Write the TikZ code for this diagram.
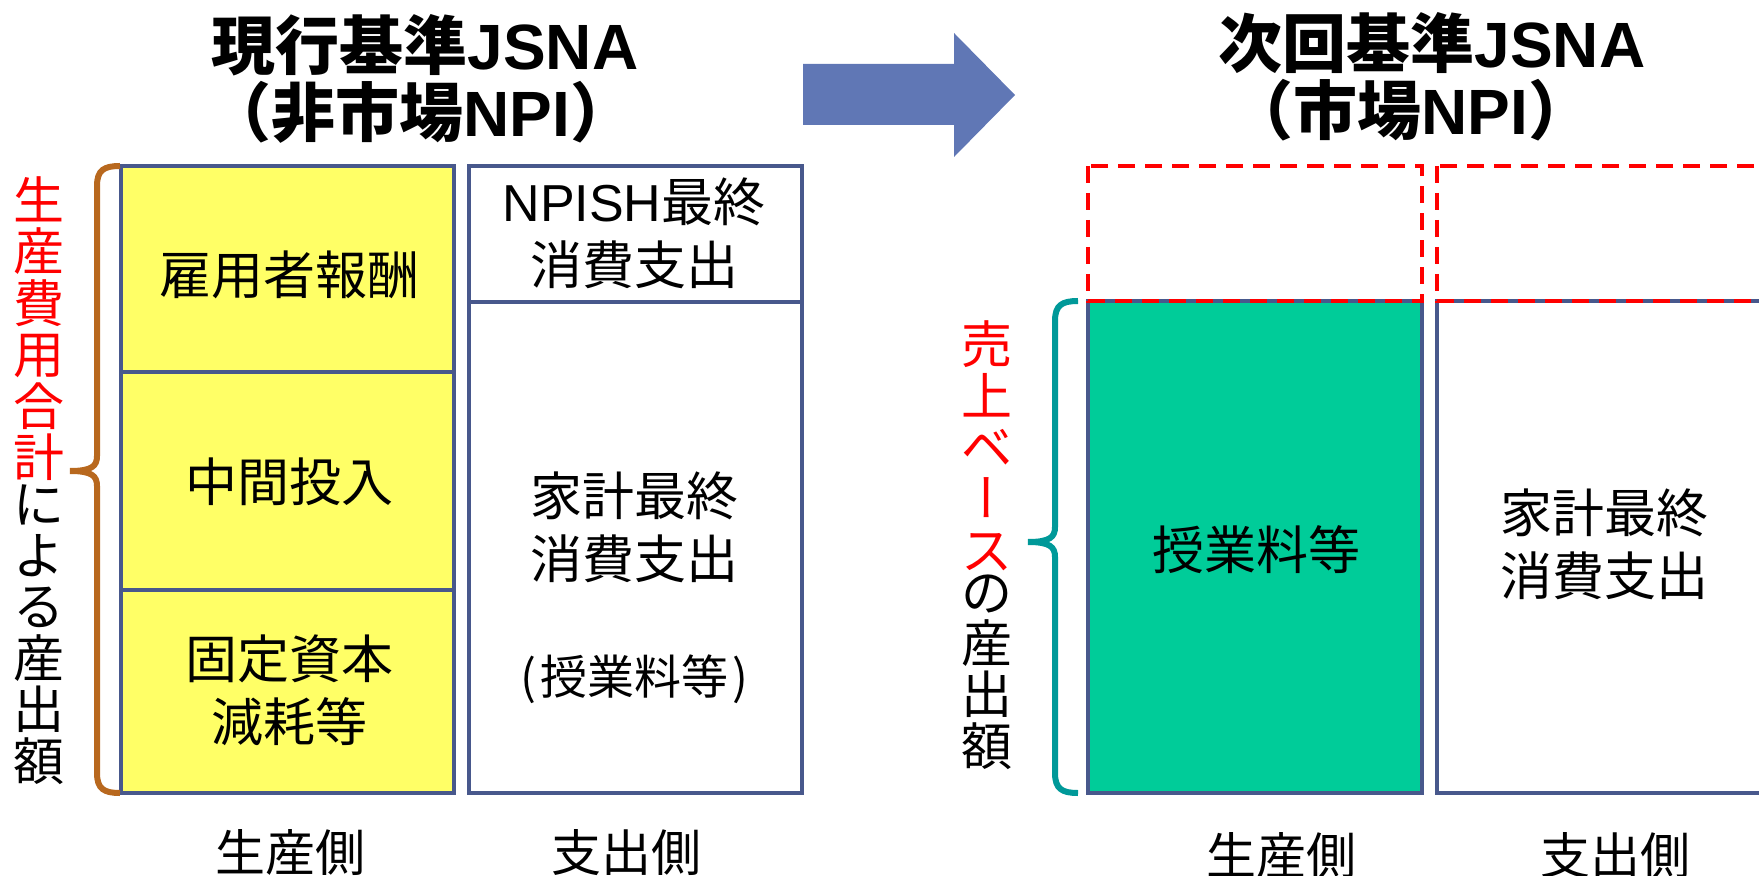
\documentclass[tikz,border=0pt]{standalone}
\usepackage{fontspec}
\setmainfont{Noto Sans CJK JP}
\newfontfamily\lat{Liberation Sans}
\newfontfamily\vertcjk[RawFeature=+vert]{Noto Sans CJK JP}
\definecolor{boxline}{RGB}{72,88,140}
\definecolor{yel}{RGB}{255,255,102}
\definecolor{grn}{RGB}{0,204,153}
\definecolor{arrowblue}{RGB}{96,119,181}
\definecolor{bracebrown}{RGB}{184,104,30}
\definecolor{braceteal}{RGB}{0,153,153}
\definecolor{redtxt}{RGB}{255,0,0}
\newcommand\sidefont{\fontsize{25.5}{25.7}\selectfont\lineskiplimit=-20pt\relax\lineskip=0pt\relax}
\begin{document}
\begin{tikzpicture}[x=0.5pt,y=-0.5pt,
  titletxt/.style={inner sep=0pt,font=\fontsize{32}{38}\selectfont\bfseries},
  cell/.style={draw=boxline,line width=1.6pt,inner sep=0pt,minimum width=166.5pt},
  celltxt/.style={inner sep=0pt,align=center,font=\fontsize{26}{31.5}\selectfont},
  smalltxt/.style={inner sep=0pt,font=\fontsize{23.5}{28}\selectfont},
  sidetxt/.style={inner sep=0pt,align=center,font=\sidefont},
  foottxt/.style={inner sep=0pt,font=\fontsize{25}{30}\selectfont},
  dashbox/.style={draw=redtxt,line width=2pt,dash pattern=on 8.5pt off 5pt},
  bracebrown/.style={draw=bracebrown,line width=3pt},
  braceteal/.style={draw=braceteal,line width=3pt}]
\useasboundingbox (0,0) rectangle (1759,876);
\clip (0,0) rectangle (1759,876);

% titles
\node[titletxt] (t1a) at (425,45) {現行基準{\lat\bfseries JSNA}};
\node[titletxt] (t1b) at (421,112) {（非市場{\lat\bfseries NPI}）};
\node[titletxt] (t2a) at (1432,43) {次回基準{\lat\bfseries JSNA}};
\node[titletxt] (t2b) at (1411,110) {（市場{\lat\bfseries NPI}）};

% big arrow
\fill[arrowblue] (803,64) -- (954,64) -- (954,33) -- (1015,95) -- (954,157) -- (954,125) -- (803,125) -- cycle;

% left: production side
\node[cell,fill=yel,minimum height=103pt] (cA) at (287.5,269) {};
\node[cell,fill=yel,minimum height=109pt] (cB) at (287.5,481) {};
\node[cell,fill=yel,minimum height=101.5pt] (cC) at (287.5,691.5) {};
\node[celltxt] (cAt) at (289,275) {雇用者報酬};
\node[celltxt] (cBt) at (289,482) {中間投入};
\node[celltxt] (cCt) at (289,690) {固定資本\\減耗等};

% left: expenditure side
\node[cell,fill=white,minimum height=68pt] (eA) at (635.5,234) {};
\node[cell,fill=white,minimum height=245.5pt] (eB) at (635.5,547.5) {};
\node[celltxt] (eAt) at (634,233) {{\lat NPISH}最終\\消費支出};
\node[celltxt] (eBt) at (634,527) {家計最終\\消費支出};
\node[smalltxt] (eBs) at (634,679) {(\kern2pt授業料等\kern2pt)};

% left brace
\draw[bracebrown] (120,166) .. controls (104,166) and (97,170) .. (97,186) -- (97,456)
  .. controls (97,466) and (92,471) .. (70,471)
  .. controls (92,471) and (97,476) .. (97,486) -- (97,773)
  .. controls (97,789) and (104,793) .. (120,793);
\node[sidetxt,text=redtxt,anchor=south] (sideL1) at (39,481) {生\\産\\費\\用\\合\\計};
\node[sidetxt,anchor=north] (sideL2) at (39,484) {に\\よ\\る\\産\\出\\額};

% right: production side
\node[cell,fill=grn,minimum width=167pt,minimum height=246pt] (gA) at (1255,547) {};
\node[celltxt] (gAt) at (1256,550) {授業料等};
\node[cell,fill=white,minimum width=167pt,minimum height=246pt] (hA) at (1604,547) {};
\node[celltxt] (hAt) at (1604,544) {家計最終\\消費支出};
\draw[dashbox] (1088,166) rectangle (1422,301);
\draw[dashbox] (1437,166) rectangle (1771,301);

% right brace
\draw[braceteal] (1078,301) .. controls (1062,301) and (1055,305) .. (1055,321) -- (1055,527)
  .. controls (1055,537) and (1050,542) .. (1028,542)
  .. controls (1050,542) and (1055,547) .. (1055,557) -- (1055,773)
  .. controls (1055,789) and (1062,793) .. (1078,793);
\node[sidetxt,text=redtxt,anchor=south] (sideR1) at (987,571) {売\\上\\ベ\\{\vertcjk ー}\\ス};
\node[sidetxt,anchor=north] (sideR2) at (987,574) {の\\産\\出\\額};

% footers
\node[foottxt] (f1) at (290,853) {生産側};
\node[foottxt] (f2) at (626,853) {支出側};
\node[foottxt] (f3) at (1281,856) {生産側};
\node[foottxt] (f4) at (1615,856) {支出側};
\end{tikzpicture}
\end{document}
